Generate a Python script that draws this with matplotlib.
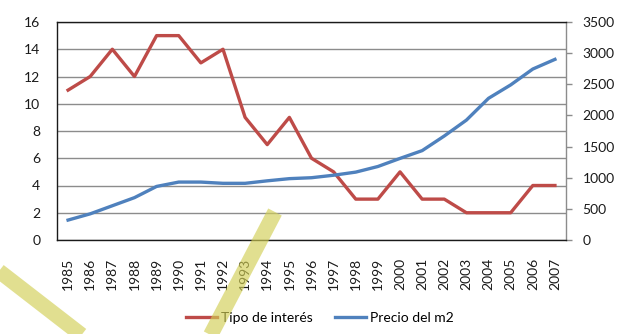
import matplotlib

matplotlib.use("Agg")

import matplotlib.pyplot as plt
from matplotlib.lines import Line2D

years = [str(y) for y in range(1985, 2008)]
tipo_interes = [11, 12, 14, 12, 15, 15, 13, 14, 9, 7, 9, 6, 5, 3, 3, 5, 3, 3, 2, 2, 2, 4, 4]
precio_m2 = [320, 420, 550, 680, 860, 930, 930, 910, 910, 950, 985, 1000, 1040, 1090,
             1180, 1310, 1435, 1670, 1925, 2275, 2490, 2745, 2900]

RED = "#be4b48"
BLUE = "#4f81bd"
GRID = "#8c8c8c"

plt.rcParams["font.family"] = ["Lato", "DejaVu Sans"]
plt.rcParams["font.size"] = 10

W, H = 640, 334
fig = plt.figure(figsize=(W / 100, H / 100), dpi=100)
ax = fig.add_axes([57 / W, 1 - 240 / H, (566 - 57) / W, (240 - 22) / H])
ax2 = ax.twinx()

x = range(len(years))
l1, = ax.plot(x, tipo_interes, color=RED, lw=2.4, label="Tipo de interés")
l2, = ax2.plot(x, precio_m2, color=BLUE, lw=2.4, label="Precio del m2")

ax.set_xlim(-0.5, len(years) - 0.5)
ax.set_ylim(0, 16)
ax.set_yticks(range(0, 17, 2))
ax2.set_ylim(0, 3500)
ax2.set_yticks(range(0, 3501, 500))

ax.set_xticks(list(x))
ax.set_xticklabels(years, rotation=90)
ax.tick_params(axis="x", length=0, pad=13, colors="#1a1a1a")
ax.tick_params(axis="y", length=0, pad=12, colors="#1a1a1a")
ax2.tick_params(axis="y", length=4, width=1, color=GRID, pad=8, labelcolor="#1a1a1a")

ax.grid(axis="y", color=GRID, lw=1)
ax.set_axisbelow(True)

for name in ("left", "bottom", "top"):
    ax2.spines[name].set_color("#1a1a1a")
    ax2.spines[name].set_linewidth(1)
ax2.spines["right"].set_color(GRID)
ax2.spines["right"].set_linewidth(1)
for sp in ax.spines.values():
    sp.set_visible(False)

fig.legend(handles=[l1, l2], loc="center", bbox_to_anchor=(0.5, 1 - 318 / H), ncol=2,
           frameon=False, handlelength=2.2, handletextpad=0.3, columnspacing=1.6)

# pale yellow diagonal strokes across the lower part
for (xa, ya), (xb, yb) in [((275, 212), (208, 340)), ((-5, 268), (88, 340))]:
    fig.add_artist(Line2D([xa / W, xb / W], [1 - ya / H, 1 - yb / H],
                          transform=fig.transFigure, color="#d2cf55", alpha=0.65,
                          lw=11, solid_capstyle="butt", zorder=10))

fig.savefig("out.png", dpi=100)
